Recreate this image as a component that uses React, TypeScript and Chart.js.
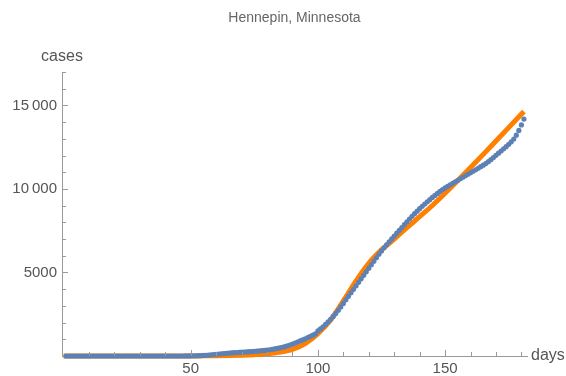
import React, { useEffect, useRef } from "react";
import { Chart, registerables } from "chart.js";

Chart.register(...registerables);

const TITLE = "Hennepin, Minnesota";
const X_LABEL = "days";
const Y_LABEL = "cases";

const X_MAJOR_TICKS = [50, 100, 150];
const Y_MAJOR_TICKS = [5000, 10000, 15000];
const Y_MAJOR_LABELS = ["5000", "10\u2009000", "15\u2009000"];
const X_MINOR_TICKS = [10, 20, 30, 40, 60, 70, 80, 90, 110, 120, 130, 140, 160, 170, 180];
const Y_MINOR_TICKS = [1000, 2000, 3000, 4000, 6000, 7000, 8000, 9000, 11000, 12000, 13000, 14000, 16000, 17000];

// Observed cumulative cases, day 1 .. day 181
const observedCases = [
  0, 0, 0, 0, 0, 0, 0, 0, 0, 0,
  0, 0, 0, 0, 0, 0, 0, 0, 0, 0,
  0, 0, 0, 0, 0, 0, 0, 0, 0, 0,
  0, 0, 0, 0, 0, 0, 0, 0, 0, 0,
  0, 0, 0, 0, 0, 0, 1, 2, 3, 5,
  8, 12, 18, 25, 35, 45, 58, 72, 88, 105,
  120, 135, 150, 165, 178, 190, 200, 210, 220, 230,
  240, 250, 260, 270, 282, 294, 306, 320, 336, 354,
  375, 398, 424, 452, 484, 520, 560, 605, 655, 710,
  770, 835, 900, 965, 1030, 1100, 1170, 1245, 1325, 1500,
  1620, 1750, 1890, 2040, 2200, 2370, 2550, 2740, 2940, 3150,
  3360, 3570, 3780, 3990, 4200, 4410, 4620, 4830, 5040, 5250,
  5460, 5670, 5880, 6090, 6290, 6480, 6660, 6840, 7010, 7180,
  7350, 7520, 7690, 7860, 8030, 8200, 8360, 8520, 8670, 8820,
  8960, 9100, 9230, 9360, 9490, 9610, 9730, 9850, 9960, 10060,
  10160, 10250, 10340, 10430, 10520, 10610, 10700, 10790, 10880, 10970,
  11060, 11150, 11240, 11330, 11420, 11520, 11630, 11750, 11880, 12010,
  12140, 12270, 12400, 12530, 12670, 12820, 12990, 13220, 13500, 13830,
  14180,
];

// Fitted model curve
const fitDays = [0, 40, 50, 55, 60, 65, 70, 75, 80, 85, 90, 95, 100, 105, 110, 115, 120, 125, 130, 135, 140, 145, 150, 155, 160, 165, 170, 175, 181];
const fitCases = [0, 0, 2, 8, 15, 30, 50, 80, 130, 230, 400, 740, 1330, 2150, 3300, 4500, 5550, 6350, 7000, 7680, 8340, 9010, 9740, 10500, 11280, 12070, 12870, 13670, 14640];

const AXIS_COLOR = "#9a9a9a";
const TEXT_COLOR = "#555555";
const FONT = "'Liberation Sans', Arial, sans-serif";

const decorPlugin = {
  id: "mmaDecor",
  afterDraw(chart: any) {
    const { ctx, chartArea, scales } = chart;
    const xs = scales.x;
    const ys = scales.y;
    ctx.save();
    ctx.strokeStyle = AXIS_COLOR;
    ctx.lineWidth = 1;
    const xTick = (v: number, len: number) => {
      const px = Math.round(xs.getPixelForValue(v)) + 0.5;
      ctx.beginPath();
      ctx.moveTo(px, chartArea.bottom);
      ctx.lineTo(px, chartArea.bottom - len);
      ctx.stroke();
    };
    const yTick = (v: number, len: number) => {
      const py = Math.round(ys.getPixelForValue(v)) + 0.5;
      ctx.beginPath();
      ctx.moveTo(chartArea.left, py);
      ctx.lineTo(chartArea.left + len, py);
      ctx.stroke();
    };
    X_MAJOR_TICKS.forEach((v) => xTick(v, 6));
    X_MINOR_TICKS.forEach((v) => xTick(v, 4));
    Y_MAJOR_TICKS.forEach((v) => yTick(v, 6));
    Y_MINOR_TICKS.forEach((v) => yTick(v, 4));

    ctx.fillStyle = "#666666";
    ctx.font = `14px ${FONT}`;
    ctx.textAlign = "center";
    ctx.textBaseline = "middle";
    ctx.fillText(TITLE, (chartArea.left + chartArea.right) / 2, 18);

    ctx.fillStyle = TEXT_COLOR;
    ctx.font = `16px ${FONT}`;
    ctx.textAlign = "center";
    ctx.fillText(Y_LABEL, chartArea.left, 57);
    ctx.textAlign = "left";
    ctx.fillText(X_LABEL, chartArea.right + 4, chartArea.bottom);
    ctx.restore();
  },
};

export default function App() {
  const canvasRef = useRef<HTMLCanvasElement | null>(null);

  useEffect(() => {
    document.body.style.margin = "0";
    const canvas = canvasRef.current;
    if (!canvas) return;
    const observed = observedCases.map((c, i) => ({ x: i + 1, y: c }));
    const fit = fitDays.map((d, i) => ({ x: d, y: fitCases[i] }));
    const chart = new Chart(canvas, {
      type: "scatter",
      data: {
        datasets: [
          {
            label: "observed",
            data: observed,
            showLine: false,
            pointRadius: 2.6,
            pointBorderWidth: 0,
            pointBackgroundColor: "#5E81B5",
            backgroundColor: "#5E81B5",
            clip: false,
          } as any,
          {
            label: "fit",
            data: fit,
            showLine: true,
            borderColor: "rgb(255,127,0)",
            borderWidth: 5,
            pointRadius: 0,
            cubicInterpolationMode: "monotone",
            fill: false,
            clip: false,
          } as any,
        ],
      },
      options: {
        animation: false,
        responsive: false,
        maintainAspectRatio: false,
        devicePixelRatio: 1,
        layout: { padding: { top: 72, right: 39, left: 0, bottom: 0 } },
        plugins: {
          legend: { display: false },
          tooltip: { enabled: false },
          title: { display: false },
        },
        scales: {
          x: {
            type: "linear",
            min: -0.6,
            max: 182.2,
            afterBuildTicks: (s: any) => {
              s.ticks = X_MAJOR_TICKS.map((v) => ({ value: v }));
            },
            afterFit: (s: any) => {
              s.height = 20;
            },
            ticks: {
              color: TEXT_COLOR,
              font: { family: FONT, size: 15 },
              padding: 4,
              maxRotation: 0,
              autoSkip: false,
              callback: (v: any) => String(v),
            },
            grid: { display: false, drawTicks: false },
            border: { display: true, color: AXIS_COLOR, width: 1 },
          },
          y: {
            type: "linear",
            min: 0,
            max: 17000,
            afterBuildTicks: (s: any) => {
              s.ticks = Y_MAJOR_TICKS.map((v) => ({ value: v }));
            },
            afterFit: (s: any) => {
              s.width = 62;
            },
            ticks: {
              color: TEXT_COLOR,
              font: { family: FONT, size: 15 },
              padding: 5,
              autoSkip: false,
              callback: (v: any) => {
                const i = Y_MAJOR_TICKS.indexOf(Number(v));
                return i >= 0 ? Y_MAJOR_LABELS[i] : "";
              },
            },
            grid: { display: false, drawTicks: false },
            border: { display: true, color: AXIS_COLOR, width: 1 },
          },
        },
      } as any,
      plugins: [decorPlugin],
    });
    return () => chart.destroy();
  }, []);

  return (
    <div style={{ width: 566, height: 376 }}>
      <canvas ref={canvasRef} width={566} height={376} style={{ display: "block" }} />
    </div>
  );
}
